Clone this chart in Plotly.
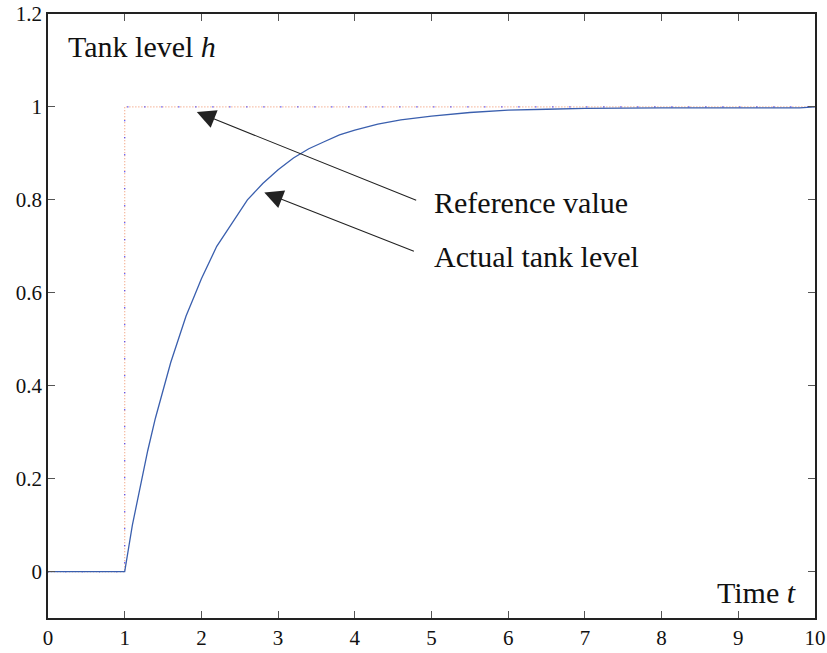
import plotly.graph_objects as go

# Data
t_ref = [0, 1, 1, 10]
h_ref = [0, 0, 1, 1]

t_act = [0, 1, 1.1, 1.2, 1.3, 1.4, 1.5, 1.6, 1.7, 1.8, 1.9, 2.0, 2.2, 2.4, 2.6, 2.8,
         3.0, 3.2, 3.4, 3.6, 3.8, 4.0, 4.3, 4.6, 5.0, 5.5, 6.0, 6.5, 7.0, 8.0, 9.0, 9.8, 10.0]
h_act = [0, 0, 0.10, 0.18, 0.26, 0.33, 0.39, 0.45, 0.50, 0.55, 0.59, 0.63, 0.70, 0.75,
         0.80, 0.835, 0.865, 0.89, 0.91, 0.925, 0.94, 0.95, 0.963, 0.972, 0.98, 0.988,
         0.993, 0.995, 0.997, 0.998, 0.998, 0.998, 1.0]

x_ticks = list(range(0, 11))
x_labels = [str(v) for v in x_ticks]
y_ticks = [0, 0.2, 0.4, 0.6, 0.8, 1, 1.2]
y_labels = ["0", "0.2", "0.4", "0.6", "0.8", "1", "1.2"]

FONT = "Liberation Serif"
SPAN = "<span style='font-family:\"Liberation Serif\", serif; font-size:21px'>{}</span>"

fig = go.Figure()
fig.add_trace(go.Scatter(x=t_ref, y=h_ref, mode="lines",
                         line=dict(color="#f2a07e", width=1.2, dash="1px,2px"),
                         hoverinfo="skip", showlegend=False))
fig.add_trace(go.Scatter(x=t_ref, y=h_ref, mode="lines",
                         line=dict(color="#2020ff", width=1.2, dash="1px,16px"),
                         hoverinfo="skip", showlegend=False))
fig.add_trace(go.Scatter(x=t_act, y=h_act, mode="lines",
                         line=dict(color="#3a5fae", width=1.3),
                         showlegend=False))

fig.update_layout(
    width=827, height=653, margin=dict(l=48, r=12, t=14, b=35, autoexpand=False),
    paper_bgcolor="white", plot_bgcolor="white",
    font=dict(family=FONT, size=21, color="#111111"),
    xaxis=dict(range=[0, 10], tickmode="array", tickvals=x_ticks,
               ticktext=[SPAN.format(s) for s in x_labels],
               showline=True, linecolor="#222222", linewidth=1.5, mirror="ticks",
               ticks="inside", ticklen=7, tickwidth=1, tickcolor="#555555",
               showgrid=False, zeroline=False, automargin=False,
               tickfont=dict(family=FONT, size=21, color="#111111")),
    yaxis=dict(range=[-0.1, 1.2], tickmode="array", tickvals=y_ticks,
               ticktext=[SPAN.format(s) for s in y_labels],
               showline=True, linecolor="#222222", linewidth=1.5, mirror="ticks",
               ticks="inside", ticklen=7, tickwidth=1, tickcolor="#555555",
               showgrid=False, zeroline=False, automargin=False,
               tickfont=dict(family=FONT, size=21, color="#111111")),
)

text_font = dict(family=FONT, size=30, color="#111111")
arrow_common = dict(showarrow=True, text="", arrowhead=2, arrowsize=3.4, arrowwidth=1.1,
                    arrowcolor="#222222", axref="x", ayref="y", xref="x", yref="y")

fig.add_annotation(x=1.94, y=0.989, ax=4.82, ay=0.798, **arrow_common)
fig.add_annotation(x=2.82, y=0.816, ax=4.79, ay=0.688, **arrow_common)

fig.add_annotation(x=5.0, y=0.795, text="Reference value", showarrow=False,
                   xanchor="left", yanchor="middle", font=text_font)
fig.add_annotation(x=5.0, y=0.677, text="Actual tank level", showarrow=False,
                   xanchor="left", yanchor="middle", font=text_font)
fig.add_annotation(x=0.23, y=1.13, text="Tank level <i>h</i>", showarrow=False,
                   xanchor="left", yanchor="middle", font=text_font)
fig.add_annotation(x=9.78, y=-0.045, text="Time <i>t</i>", showarrow=False,
                   xanchor="right", yanchor="middle", font=text_font)

fig.write_html("out.html")
